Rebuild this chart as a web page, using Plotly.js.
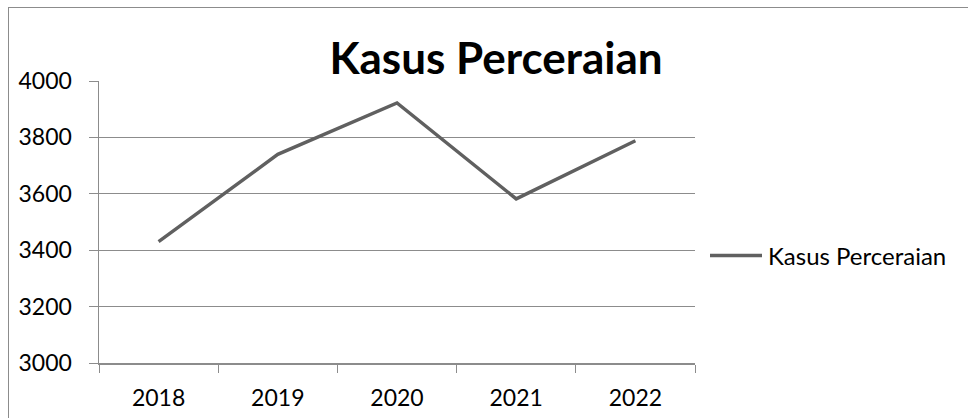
<!DOCTYPE html>
<html>
<head>
<meta charset="utf-8">
<script src="https://cdn.plot.ly/plotly-3.0.1.min.js"></script>
<style>
  html, body { margin: 0; padding: 0; overflow: hidden; background: #fff; }
  #chart { width: 968px; height: 418px; position: absolute; left: 0; top: 0; }
  #frame { position: absolute; left: 8px; top: 7px; width: 980px; height: 430px;
           border: 1.5px solid #8c8c8c; pointer-events: none; }
</style>
</head>
<body>
<div id="chart"></div>
<div id="frame"></div>
<script>
const years = ['2018', '2019', '2020', '2021', '2022'];
const kasus = [3430, 3740, 3922, 3582, 3788];
const seriesName = 'Kasus Perceraian';
const chartTitle = 'Kasus Perceraian';
const yTicks = [3000, 3200, 3400, 3600, 3800, 4000];

const FONT = 'Lato, "Open Sans", sans-serif';
const GRID = '#8c8c8c';
const LINE = '#606060';

const L = 99, R = 273, T = 81, B = 55;
const W = 968, H = 418;
const pw = W - L - R, ph = H - T - B;

const trace = {
  x: years, y: kasus, type: 'scatter', mode: 'lines', name: seriesName,
  line: { color: LINE, width: 3.4 }, showlegend: false, hoverinfo: 'x+y'
};

const legX0 = (710 - L) / pw, legX1 = (762 - L) / pw;
const legY = (H - B - 255.5) / ph;

const layout = {
  width: W, height: H,
  margin: { l: L, r: R, t: T, b: B, pad: 0 },
  paper_bgcolor: '#fff', plot_bgcolor: '#fff',
  font: { family: FONT, color: '#000', size: 23 },
  title: {
    text: '<b>' + chartTitle + '</b>',
    font: { family: FONT, size: 44, color: '#000' },
    xref: 'paper', x: (496 - L) / pw, xanchor: 'center',
    yref: 'container', y: 1 - 59 / H, yanchor: 'middle'
  },
  xaxis: {
    type: 'category', range: [-0.5, 4.5], tickson: 'boundaries',
    ticks: 'outside', ticklen: 8, tickcolor: GRID, tickwidth: 1,
    showline: true, linecolor: GRID, linewidth: 1.5,
    showgrid: false, zeroline: false,
    tickfont: { family: FONT, size: 23, color: '#000' },
    ticklabelstandoff: 14, fixedrange: true
  },
  yaxis: {
    range: [3000, 4000], tickvals: yTicks, ticktext: yTicks.map(String),
    ticks: 'outside', ticklen: 9, tickcolor: GRID, tickwidth: 1,
    showline: true, linecolor: GRID, linewidth: 1.5,
    showgrid: true, gridcolor: GRID, gridwidth: 1.3, zeroline: false,
    tickfont: { family: FONT, size: 23, color: '#000' },
    ticklabelstandoff: 12, fixedrange: true
  },
  shapes: [{
    type: 'line', xref: 'paper', yref: 'paper',
    x0: legX0, x1: legX1, y0: legY, y1: legY,
    line: { color: LINE, width: 3.4 }
  }],
  annotations: [{
    xref: 'paper', yref: 'paper', x: (766 - L) / pw, y: legY,
    xanchor: 'left', yanchor: 'middle', showarrow: false,
    text: seriesName, font: { family: FONT, size: 24, color: '#000' }
  }]
};

Plotly.newPlot('chart', [trace], layout, { displayModeBar: false, staticPlot: true });
</script>
</body>
</html>
